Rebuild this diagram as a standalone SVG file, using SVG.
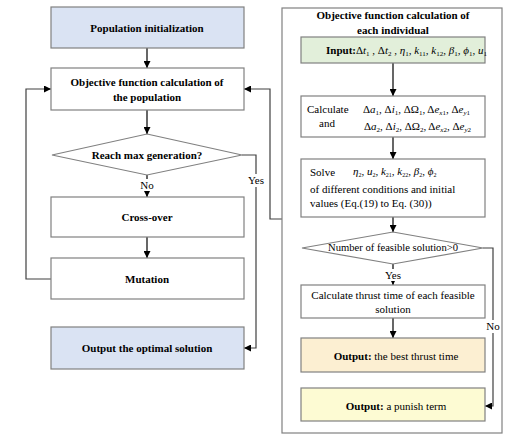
<svg xmlns="http://www.w3.org/2000/svg" width="528" height="438" viewBox="0 0 528 438">
<defs>
<marker id="arr" viewBox="0 0 10 10" refX="10" refY="5" markerWidth="7" markerHeight="7" markerUnits="userSpaceOnUse" orient="auto">
<path d="M0,0 L10,5 L0,10 z" fill="#000"/>
</marker>
<style>
.box{stroke:#808080;stroke-width:1.2;fill:#fff}
.blue{fill:#dae3f3}
.green{fill:#e2efda}
.orange{fill:#fcefd2}
.yellow{fill:#fdfbd3}
.t{font-family:"Liberation Serif","Times New Roman",serif;font-size:11px;fill:#000}
.b{font-weight:bold}
.c{text-anchor:middle}
.i{font-style:italic}
.s{font-size:7px}
.ln{fill:none;stroke:#000;stroke-width:1.2}
.lg{fill:none;stroke:#404040;stroke-width:1.2}
</style>
</defs>
<rect width="528" height="438" fill="#fff"/>

<g id="connectors">
<path class="ln" d="M147,48 V68" marker-end="url(#arr)"/>
<path class="ln" d="M147,110 V134" marker-end="url(#arr)"/>
<path class="ln" d="M147,175 V197" marker-end="url(#arr)"/>
<path class="ln" d="M147,237 V258" marker-end="url(#arr)"/>
<path class="lg" d="M51,279 H26 V89 H51" marker-end="url(#arr)"/>
<path class="lg" d="M242,155 H256 V348 H244" marker-end="url(#arr)"/>
<path class="lg" d="M282,219 H270 V89 H244" marker-end="url(#arr)"/>
<path class="ln" d="M393,63 V96" marker-end="url(#arr)"/>
<path class="ln" d="M393,137 V159" marker-end="url(#arr)"/>
<path class="ln" d="M393,217 V232" marker-end="url(#arr)"/>
<path class="ln" d="M393,264 V285" marker-end="url(#arr)"/>
<path class="ln" d="M393,318 V338" marker-end="url(#arr)"/>
<path class="lg" d="M483,248 H493 V406 H485" marker-end="url(#arr)"/>
<rect x="139" y="179" width="16" height="12" fill="#fff"/>
<text class="t c" x="147" y="189">No</text>
<rect x="246" y="174" width="20" height="13" fill="#fff"/>
<text class="t c" x="256" y="184">Yes</text>
<rect x="383" y="269" width="20" height="12" fill="#fff"/>
<text class="t c" x="393" y="279">Yes</text>
<rect x="485" y="320" width="17" height="13" fill="#fff"/>
<text class="t c" x="493" y="330">No</text>
</g>

<g id="pop-init">
<rect class="box blue" x="51" y="7" width="193" height="41"/>
<text class="t b c" x="147" y="32" font-size="12">Population initialization</text>
</g>
<g id="obj-pop">
<rect class="box" x="51" y="68" width="193" height="42"/>
<text class="t b c" x="147" y="86" font-size="12">Objective function calculation of</text>
<text class="t b c" x="147" y="101" font-size="12">the population</text>
</g>
<g id="max-gen">
<polygon class="box" points="147,134 242,155 147,175 52,155"/>
<text class="t b c" x="147" y="159" font-size="12">Reach max generation?</text>
</g>
<g id="crossover">
<rect class="box" x="51" y="197" width="193" height="40"/>
<text class="t b c" x="147" y="221" font-size="12">Cross-over</text>
</g>
<g id="mutation">
<rect class="box" x="51" y="258" width="193" height="41"/>
<text class="t b c" x="147" y="283" font-size="12">Mutation</text>
</g>
<g id="output-optimal">
<rect class="box blue" x="51" y="327" width="193" height="42"/>
<text class="t b c" x="147" y="352" font-size="12">Output the optimal solution</text>
</g>

<g id="panel">
<rect x="282" y="8" width="220" height="425" fill="none" stroke="#808080" stroke-width="1.2"/>
<text class="t b c" x="393" y="19" font-size="12">Objective function calculation of</text>
<text class="t b c" x="393" y="34" font-size="12">each individual</text>
</g>
<g id="input">
<rect class="box green" x="301" y="37" width="184" height="26"/>
<text class="t" x="326" y="54" font-size="10.5"><tspan class="b">Input:</tspan>Δ<tspan class="i">t</tspan><tspan class="s" dy="2">1</tspan><tspan dy="-2"> , Δ</tspan><tspan class="i">t</tspan><tspan class="s" dy="2">2</tspan><tspan dy="-2"> , </tspan><tspan class="i">η</tspan><tspan class="s" dy="2">1</tspan><tspan dy="-2">, </tspan><tspan class="i">k</tspan><tspan class="s" dy="2">11</tspan><tspan dy="-2">, </tspan><tspan class="i">k</tspan><tspan class="s" dy="2">12</tspan><tspan dy="-2">, </tspan><tspan class="i">β</tspan><tspan class="s" dy="2">1</tspan><tspan dy="-2">, </tspan><tspan class="i">ϕ</tspan><tspan class="s" dy="2">1</tspan><tspan dy="-2">, </tspan><tspan class="i">u</tspan><tspan class="s" dy="2">1</tspan></text>
</g>
<g id="calc-delta">
<rect class="box" x="301" y="96" width="184" height="41"/>
<text class="t" x="307" y="113" font-size="10.5">Calculate</text>
<text class="t c" x="327" y="127" font-size="10.5">and</text>
<text class="t" x="363" y="113">Δ<tspan class="i">a</tspan><tspan class="s" dy="2">1</tspan><tspan dy="-2">, Δ</tspan><tspan class="i">i</tspan><tspan class="s" dy="2">1</tspan><tspan dy="-2">, ΔΩ</tspan><tspan class="s" dy="2">1</tspan><tspan dy="-2">, Δ</tspan><tspan class="i">e</tspan><tspan class="s i" dy="2">x</tspan><tspan class="s" >1</tspan><tspan dy="-2">, Δ</tspan><tspan class="i">e</tspan><tspan class="s i" dy="2">y</tspan><tspan class="s">1</tspan></text>
<text class="t" x="364" y="130">Δ<tspan class="i">a</tspan><tspan class="s" dy="2">2</tspan><tspan dy="-2">, Δ</tspan><tspan class="i">i</tspan><tspan class="s" dy="2">2</tspan><tspan dy="-2">, ΔΩ</tspan><tspan class="s" dy="2">2</tspan><tspan dy="-2">, Δ</tspan><tspan class="i">e</tspan><tspan class="s i" dy="2">x</tspan><tspan class="s">2</tspan><tspan dy="-2">, Δ</tspan><tspan class="i">e</tspan><tspan class="s i" dy="2">y</tspan><tspan class="s">2</tspan></text>
</g>
<g id="solve">
<rect class="box" x="301" y="159" width="184" height="58"/>
<text class="t" x="310" y="176" font-size="10.5">Solve</text>
<text class="t" x="353" y="175" font-size="8.5" fill="#555"><tspan class="i">η</tspan><tspan font-size="6" dy="1.5">2</tspan><tspan dy="-1.5">, </tspan><tspan class="i">u</tspan><tspan font-size="6" dy="1.5">2</tspan><tspan dy="-1.5">, </tspan><tspan class="i">k</tspan><tspan font-size="6" dy="1.5">21</tspan><tspan dy="-1.5">, </tspan><tspan class="i">k</tspan><tspan font-size="6" dy="1.5">22</tspan><tspan dy="-1.5">, </tspan><tspan class="i">β</tspan><tspan font-size="6" dy="1.5">2</tspan><tspan dy="-1.5">, </tspan><tspan class="i">ϕ</tspan><tspan font-size="6" dy="1.5">2</tspan></text>
<text class="t" x="310" y="193" font-size="10.5">of different conditions and initial</text>
<text class="t" x="310" y="207" font-size="10.5">values (Eq.(19) to Eq. (30))</text>
</g>
<g id="feasible">
<polygon class="box" points="393,232 483,248 393,264 302,248"/>
<text class="t c" x="393" y="251" font-size="9" textLength="130" lengthAdjust="spacingAndGlyphs">Number of feasible solution&gt;0</text>
</g>
<g id="calc-thrust">
<rect class="box" x="301" y="285" width="184" height="33"/>
<text class="t c" x="393" y="299" font-size="10.5">Calculate thrust time of each feasible</text>
<text class="t c" x="393" y="313" font-size="10.5">solution</text>
</g>
<g id="output-best">
<rect class="box orange" x="301" y="338" width="184" height="34"/>
<text class="t c" x="396" y="360" font-size="11.5"><tspan class="b">Output:</tspan> the best thrust time</text>
</g>
<g id="output-punish">
<rect class="box yellow" x="301" y="388" width="184" height="33"/>
<text class="t c" x="396" y="410" font-size="11.5"><tspan class="b">Output:</tspan> a punish term</text>
</g>
</svg>
